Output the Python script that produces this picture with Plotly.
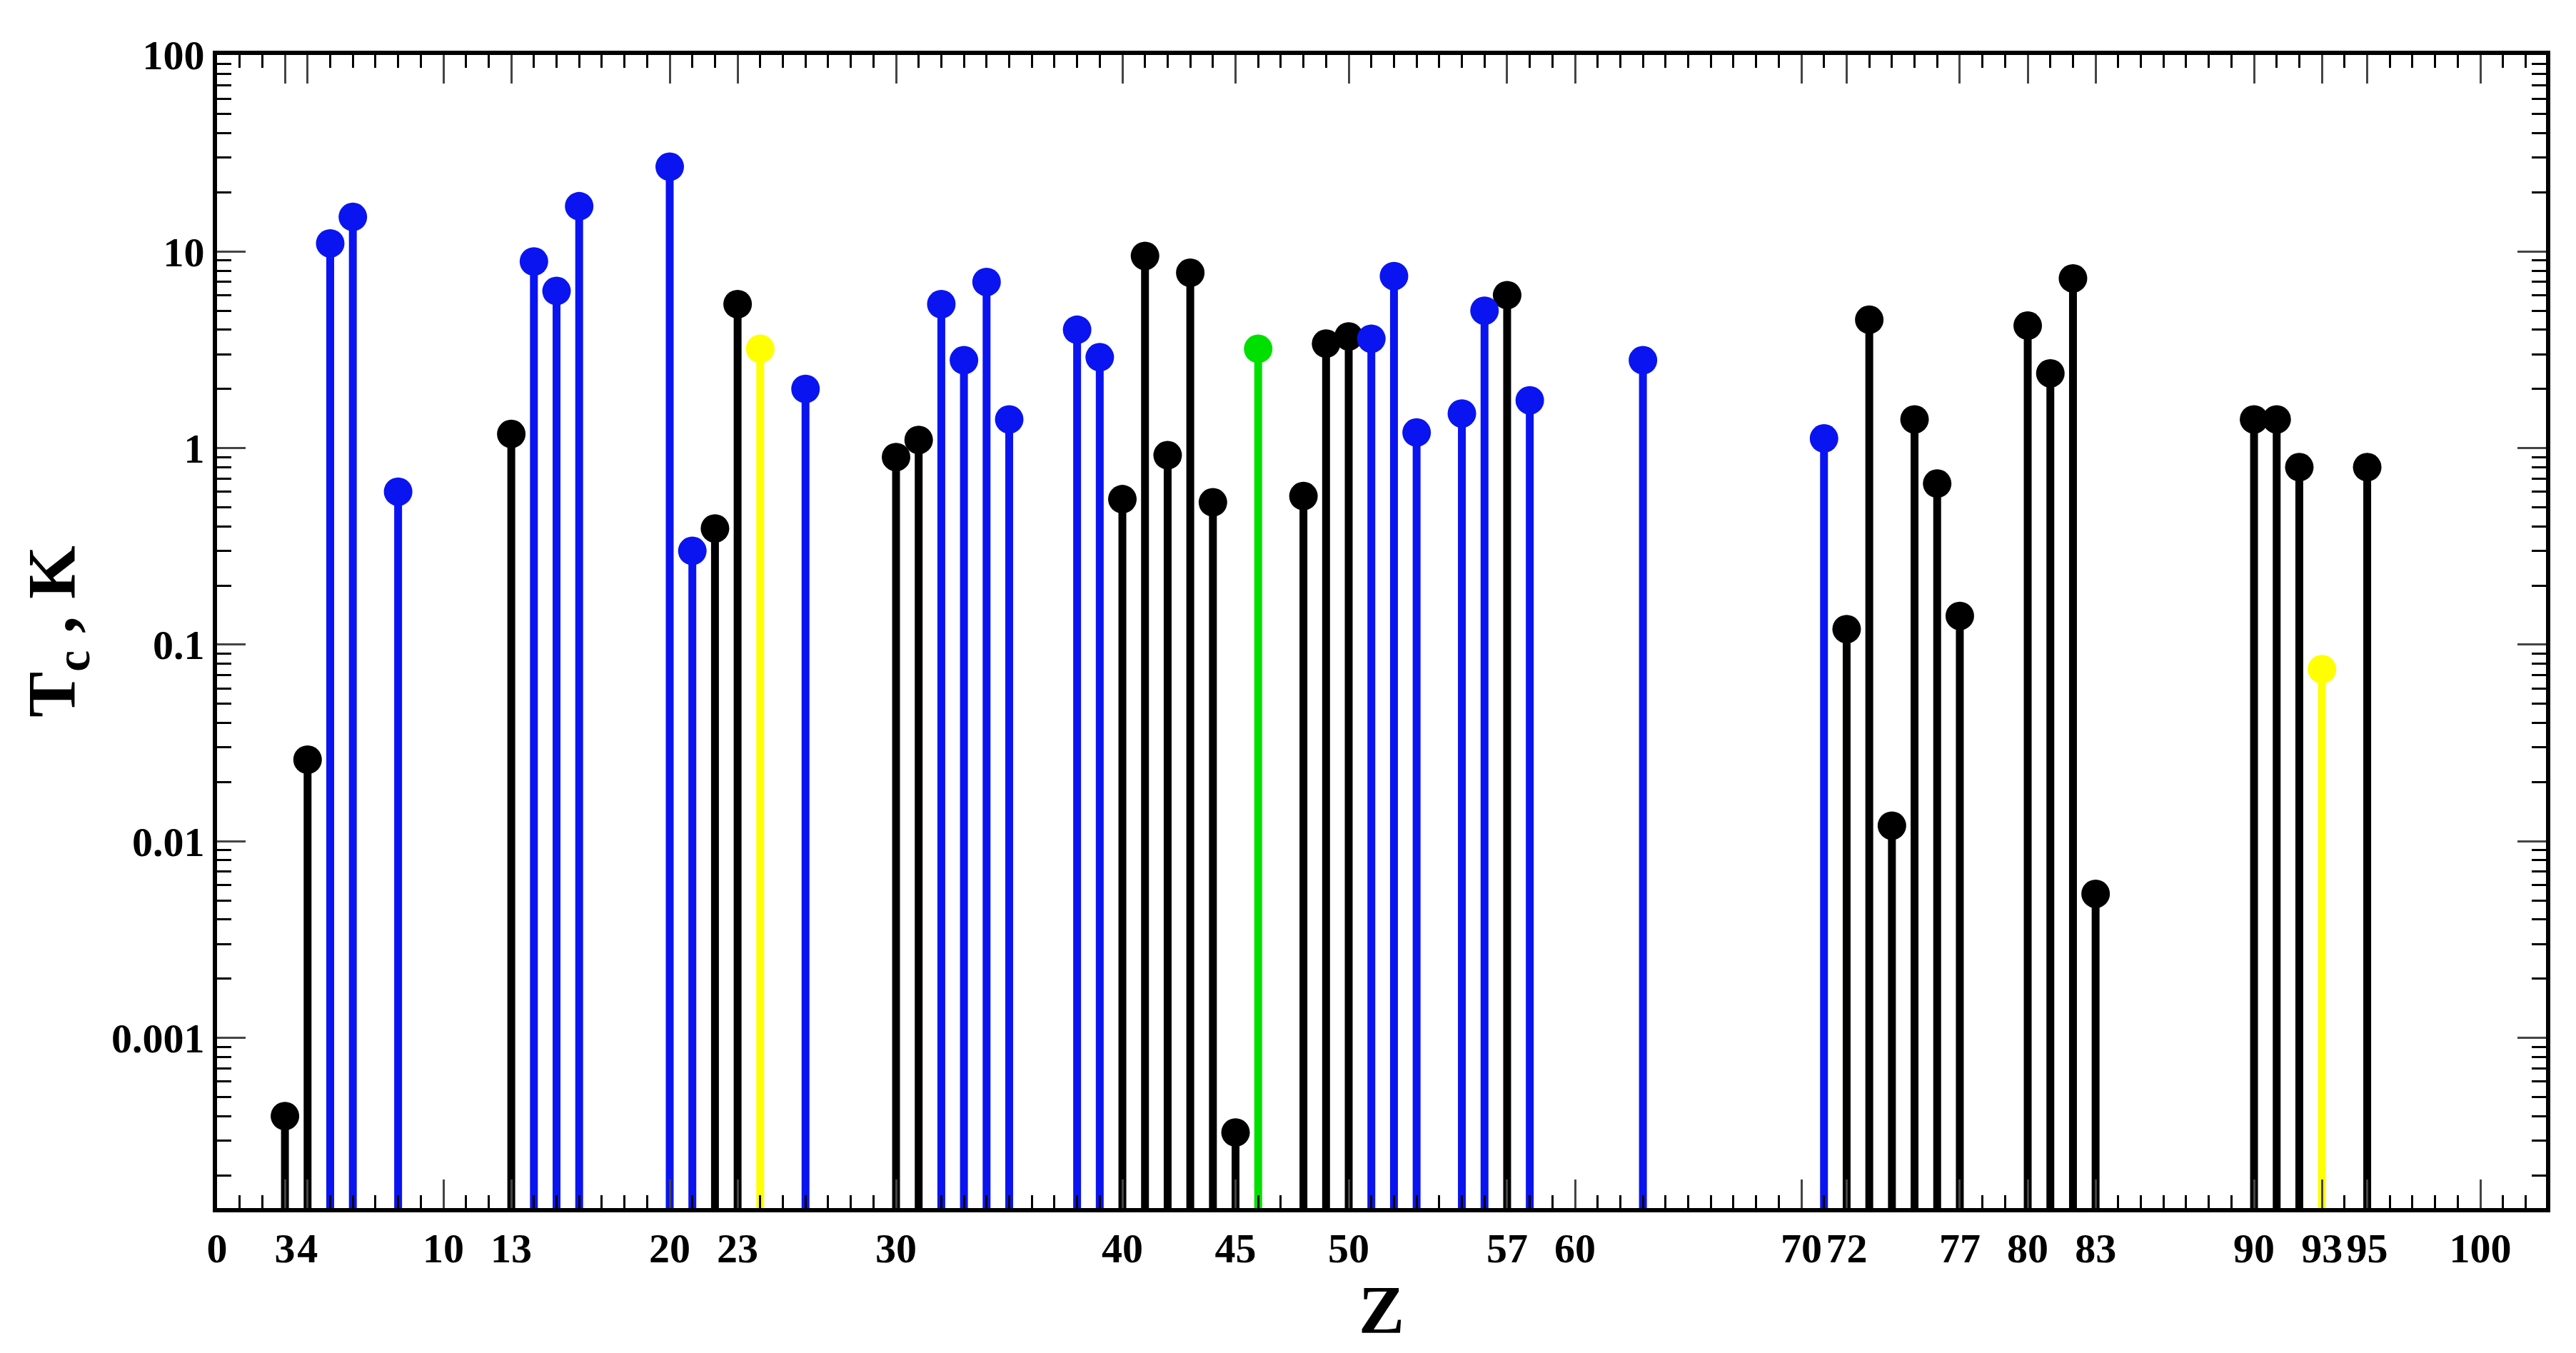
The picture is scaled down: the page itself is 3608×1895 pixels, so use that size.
import plotly.graph_objects as go

Z = [3,4,5,6,8,13,14,15,16,20,21,22,23,24,26,30,31,32,33,34,35,38,39,40,41,42,43,44,45,46,48,49,50,51,52,53,55,56,57,58,63,71,72,73,74,75,76,77,80,81,82,83,90,91,92,93,95]
Tc = [4e-4,0.026,11,15,0.6,1.18,8.9,6.3,17,27,0.3,0.39,5.4,3.2,2.0,0.9,1.1,5.4,2.8,7.0,1.4,4.0,2.9,0.55,9.5,0.92,7.8,0.53,3.3e-4,3.2,0.57,3.4,3.7,3.6,7.5,1.2,1.5,5.0,6.0,1.75,2.8,1.12,0.12,4.5,0.012,1.4,0.66,0.14,4.2,2.4,7.3,0.0054,1.4,1.4,0.8,0.075,0.8]
kind = ['k','k','b','b','b','k','b','b','b','b','b','k','k','y','b','k','k','b','b','b','b','b','b','k','k','k','k','k','k','g','k','k','k','b','b','b','b','b','k','b','b','b','k','k','k','k','k','k','k','k','k','k','k','k','k','y','k']
colors = {'k':'black','b':'#0a14f0','y':'#ffff00','g':'#00e000'}
xticks = [0,3,4,10,13,20,23,30,40,45,50,57,60,70,72,77,80,83,90,93,95,100]
yticks = [0.001,0.01,0.1,1,10,100]
ytext = ['0.001','0.01','0.1','1','10','100']
ybase = 1.36e-4

fig = go.Figure()
for k, c in colors.items():
    xs, ys, mx, my = [], [], [], []
    for z, t, kk in zip(Z, Tc, kind):
        if kk != k:
            continue
        xs += [z, z, None]; ys += [ybase, t, None]
        mx.append(z); my.append(t)
    fig.add_trace(go.Scatter(x=xs, y=ys, mode='lines', line=dict(color=c, width=11), showlegend=False, hoverinfo='skip'))
    fig.add_trace(go.Scatter(x=mx, y=my, mode='markers', marker=dict(color=c, size=40), showlegend=False))

font = dict(family='Liberation Serif', size=58, color='black')
fig.update_layout(
    width=3608, height=1895, paper_bgcolor='white', plot_bgcolor='white',
    margin=dict(l=296, r=50, t=69, b=211),
    font=font,
)
fig.update_xaxes(range=[0, 102.9], tickvals=xticks, ticktext=[f'<b>{v}</b>' for v in xticks],
                 ticks='inside', ticklen=40, tickwidth=3, showgrid=False, zeroline=False,
                 showline=True, linewidth=6, linecolor='black', mirror='allticks',
                 minor=dict(dtick=1, ticks='inside', ticklen=18, tickcolor='black'),
                 title=dict(text='<b>Z</b>', font=dict(family='Liberation Serif', size=96), standoff=10))
fig.update_yaxes(type='log', range=[-3.866, 2], tickvals=yticks, ticktext=[f'<b>{t}</b>' for t in ytext],
                 ticks='inside', ticklen=40, tickwidth=3, showgrid=False, zeroline=False,
                 showline=True, linewidth=6, linecolor='black', mirror='allticks',
                 minor=dict(dtick='D1', ticks='inside', ticklen=20, tickcolor='black'),
                 title=dict(text='<b>T<sub>c</sub> , K</b>', font=dict(family='Liberation Serif', size=96), standoff=20))
fig.write_html('out.html')
